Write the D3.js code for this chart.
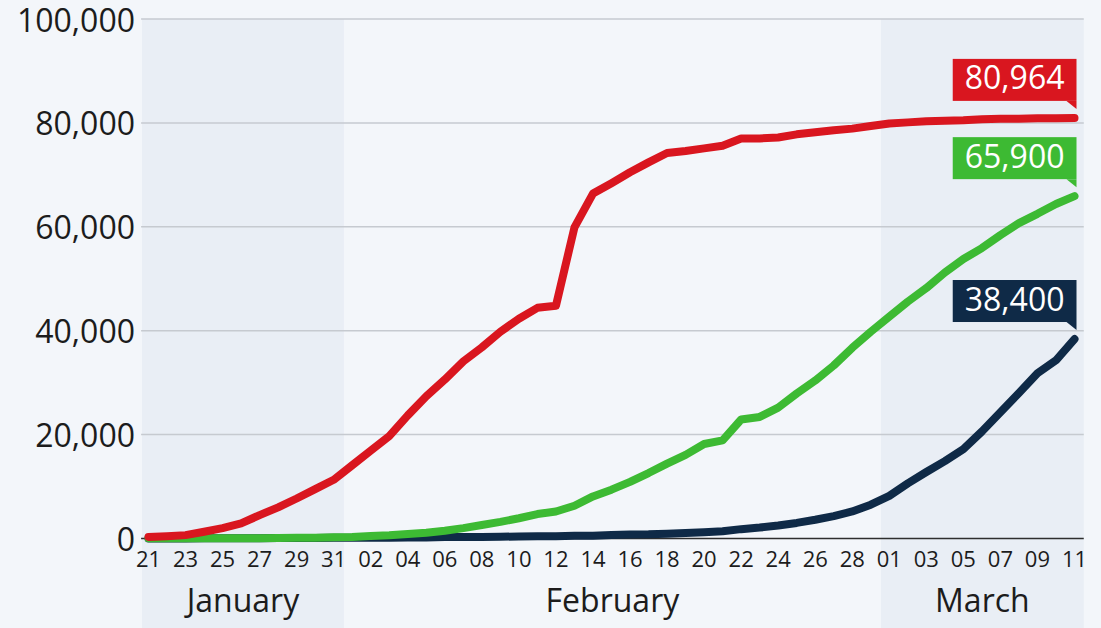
<!DOCTYPE html>
<html>
<head>
<meta charset="utf-8">
<script src="https://cdn.jsdelivr.net/npm/d3@7"></script>
<style>
  html, body { margin: 0; padding: 0; background: #f3f6fa; }
  svg { display: block; font-family: "Open Sans", "Noto Sans", sans-serif; }
</style>
</head>
<body>
<svg id="chart" width="1101" height="628"></svg>
<script>
// Daily cumulative counts, 21 January to 11 March 2020
const days = d3.timeDay.range(new Date(2020, 0, 21), new Date(2020, 2, 12));

const casesChina = [
  300, 450, 650, 1300, 2000, 2900, 4500, 6000, 7700, 9500, 11300,
  14100, 16900, 19700, 23700, 27400, 30600, 34100, 36800, 39800, 42300,
  44400, 44800, 59900, 66400, 68400, 70500, 72400, 74200, 74600, 75100,
  75600, 77000, 77000, 77200, 77800, 78200, 78600, 78900, 79400,
  79900, 80100, 80300, 80400, 80500, 80700, 80800, 80800, 80900, 80900, 80964
];

const recovered = [
  30, 30, 30, 40, 40, 50, 60, 110, 130, 140, 220,
  280, 470, 620, 850, 1100, 1500, 2000, 2600, 3200, 3900,
  4700, 5200, 6300, 8100, 9400, 10900, 12600, 14400, 16100, 18200,
  18900, 22900, 23400, 25200, 27900, 30400, 33300, 36700, 39800,
  42700, 45600, 48200, 51200, 53800, 55900, 58400, 60700, 62500, 64400, 65900
];

const casesOutside = [
  0, 10, 20, 30, 40, 50, 60, 80, 90, 110, 130,
  150, 150, 160, 180, 190, 270, 290, 310, 320, 400,
  440, 450, 510, 530, 680, 790, 800, 920, 1070, 1200,
  1400, 1800, 2100, 2500, 3000, 3600, 4300, 5200, 6500,
  8200, 10600, 12800, 14900, 17200, 20600, 24300, 28000, 31800, 34300, 38400
];

const yTicks = [0, 20000, 40000, 60000, 80000, 100000];
const monthNames = ["January", "February", "March"];

// drawing order: bottom series first
const series = [
  { values: casesOutside, color: "#0f2a47" },
  { values: recovered,    color: "#3dba33" },
  { values: casesChina,   color: "#d9161f" }
];

const svg = d3.select("#chart");

const x = d3.scaleLinear().domain([0, days.length - 1]).range([148.5, 1074.5]);
const y = d3.scaleLinear().domain([0, 100000]).range([538.5, 19]);

// month spans in day-index units (boundaries half way between months)
const monthSpans = monthNames.map((name, m) => {
  const idx = days.map((d, i) => [d, i]).filter(([d]) => d.getMonth() === m).map(([, i]) => i);
  const first = d3.min(idx), last = d3.max(idx);
  return {
    name,
    from: first === 0 ? -0.35 : first - 0.45,
    to: last === days.length - 1 ? last + 0.5 : last + 0.55,
    shaded: m !== 1
  };
});

// shaded month backgrounds
svg.append("g").selectAll("rect")
  .data(monthSpans.filter(d => d.shaded))
  .join("rect")
  .attr("x", d => x(d.from))
  .attr("width", d => x(d.to) - x(d.from))
  .attr("y", y(100000))
  .attr("height", 628 - y(100000))
  .attr("fill", "#e9eef5");

// gridlines
const gridX0 = x(-0.4), gridX1 = x(50.5);
svg.append("g").selectAll("line")
  .data(yTicks)
  .join("line")
  .attr("x1", gridX0).attr("x2", gridX1)
  .attr("y1", d => y(d)).attr("y2", d => y(d))
  .attr("stroke", d => d === 0 ? "#2e2e2e" : "#c6cad0")
  .attr("stroke-width", d => d === 0 ? 1.6 : 1.5);

// y-axis labels
const fmt = d3.format(",");
svg.append("g").selectAll("text")
  .data(yTicks)
  .join("text")
  .attr("x", 135)
  .attr("y", d => y(d) + 12.5)
  .attr("text-anchor", "end")
  .attr("font-size", 32)
  .attr("fill", "#1c1c1c")
  .text(d => fmt(d));

// day labels every second day
const dayFmt = d3.timeFormat("%d");
svg.append("g").selectAll("text")
  .data(days.filter((d, i) => i % 2 === 0))
  .join("text")
  .attr("x", d => x(days.indexOf(d)))
  .attr("y", 567)
  .attr("text-anchor", "middle")
  .attr("font-size", 22)
  .attr("fill", "#1c1c1c")
  .text(d => dayFmt(d));

// month labels
svg.append("g").selectAll("text")
  .data(monthSpans)
  .join("text")
  .attr("x", d => (x(d.from) + x(d.to)) / 2)
  .attr("y", 612)
  .attr("text-anchor", "middle")
  .attr("font-size", 32)
  .attr("fill", "#1c1c1c")
  .text(d => d.name);

// lines
const line = d3.line().x((d, i) => x(i)).y(d => y(d));
svg.append("g").selectAll("path")
  .data(series)
  .join("path")
  .attr("d", d => line(d.values))
  .attr("fill", "none")
  .attr("stroke", d => d.color)
  .attr("stroke-width", 8)
  .attr("stroke-linejoin", "round")
  .attr("stroke-linecap", "round");

// end-value callouts
const callouts = svg.append("g");
series.forEach(s => {
  const last = s.values.length - 1;
  const ex = x(last) + 2, ey = y(s.values[last]);
  const boxBottom = ey - 17, boxH = 42;
  const g = callouts.append("g");
  const t = g.append("text")
    .attr("font-size", 32)
    .attr("fill", "#ffffff")
    .attr("text-anchor", "middle")
    .text(fmt(s.values[last]));
  const w = t.node().getComputedTextLength() + 24;
  g.insert("rect", "text")
    .attr("x", ex - w).attr("y", boxBottom - boxH)
    .attr("width", w).attr("height", boxH)
    .attr("fill", s.color);
  g.insert("path", "text")
    .attr("d", `M${ex - 10},${boxBottom} L${ex},${boxBottom} L${ex},${boxBottom + 8} Z`)
    .attr("fill", s.color);
  t.attr("x", ex - w / 2).attr("y", boxBottom - 11.5);
});
</script>
</body>
</html>
